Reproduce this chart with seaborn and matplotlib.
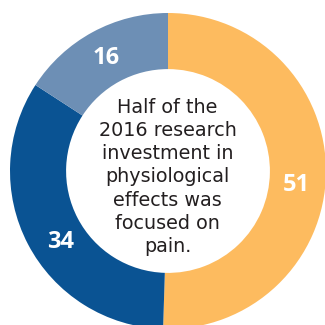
import numpy as np
import seaborn as sns
import matplotlib.pyplot as plt

# share of 2016 research investment in physiological effects
categories = ["Pain", "Other effects A", "Other effects B"]
values = [51, 34, 16]
label_text = ["51", "34", "16"]
colors = ["#FDBB5F", "#0A5393", "#6D8FB5"]

center_note = "Half of the\n2016 research\ninvestment in\nphysiological\neffects was\nfocused on\npain."


def main():
    sns.set_style("white")
    plt.rcParams['font.family'] = ['DejaVu Sans']

    fig = plt.figure(figsize=(3.25, 3.25), dpi=100)
    ax = fig.add_axes([0, 0, 1, 1])

    cx, cy, r = 168, 154, 158
    wedges, _ = ax.pie(values, colors=colors, startangle=90, counterclock=False,
                       center=(cx, cy), radius=r,
                       wedgeprops=dict(width=r * 0.355, linewidth=0))

    # value labels, nudged a little from the wedge middles
    nudge = [-5.5, 6, 0]
    for w, txt, d in zip(wedges, label_text, nudge):
        ang = np.deg2rad((w.theta1 + w.theta2) / 2 + d)
        ax.text(cx + 129 * np.cos(ang), cy + 129 * np.sin(ang), txt,
                ha='center', va='center', color='white',
                fontsize=17, fontweight='bold', family='Open Sans')

    ax.text(cx - 0.5, cy - 6, center_note, ha='center', va='center',
            fontsize=13.8, color='#231F20', linespacing=1.28)

    ax.set_xlim(0, 325)
    ax.set_ylim(0, 325)
    ax.set_aspect('equal')
    ax.axis('off')

    fig.savefig("out.png", dpi=100, facecolor='white')


if __name__ == "__main__":
    main()
